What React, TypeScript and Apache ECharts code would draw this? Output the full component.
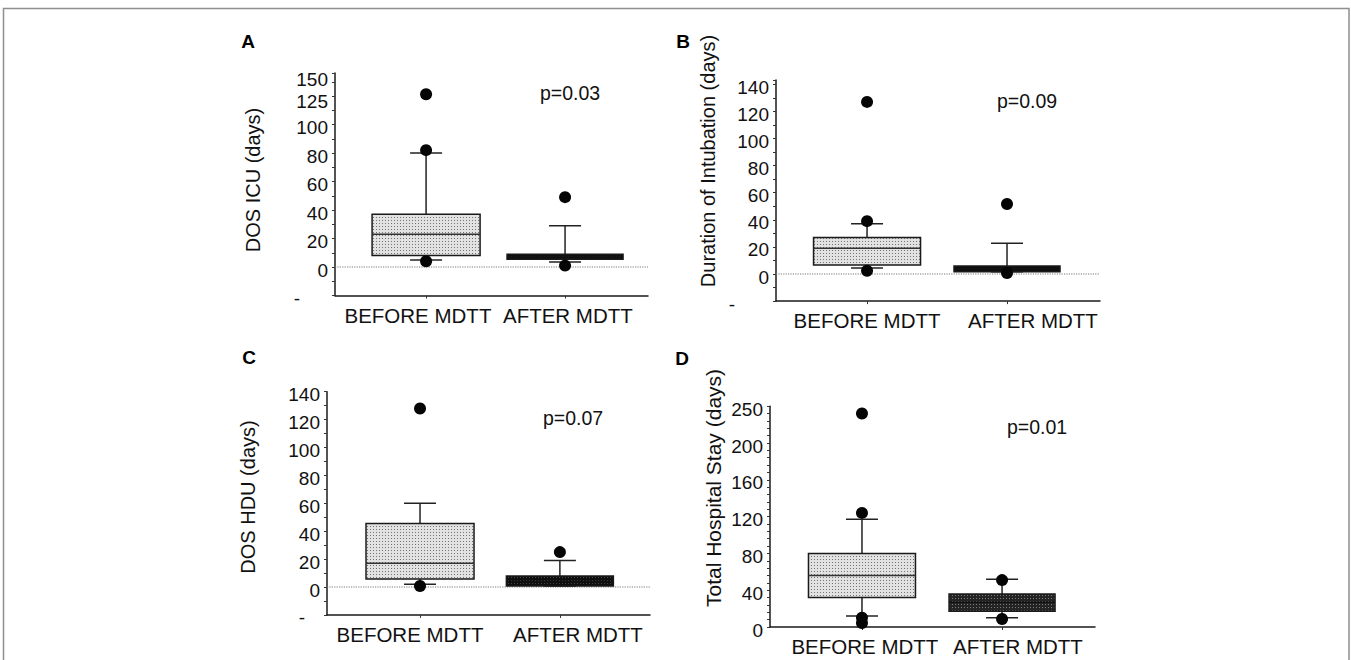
import React, { useEffect, useRef } from "react";
import * as echarts from "echarts";

// ---------------- DATA ----------------
const categories = ["BEFORE MDTT", "AFTER MDTT"];

// tick labels (days) of each panel's y axis
const icuTicks = [0, 20, 40, 60, 80, 100, 125, 150];
const intubTicks = [0, 20, 40, 60, 80, 100, 120, 140];
const hduTicks = [0, 20, 40, 60, 80, 100, 120, 140];
const stayTicks = [0, 40, 80, 120, 160, 200, 250];

// box values: [lower whisker, Q1, median, Q3, upper whisker] (days)
const icuBefore = [5, 8, 23, 37, 80];
const icuAfter = [3.5, 5.5, 7, 9, 29];
const intubBefore = [4.4, 6.6, 19, 27, 37];
const intubAfter = [1.7, 1.7, 3.8, 5.9, 22.7];
const hduBefore = [2, 5.7, 17, 45.6, 60];
const hduAfter = [0.7, 0.7, 4, 7.8, 19];
const stayBefore = [12, 32, 56, 80, 117];
const stayAfter = [10, 17, 27, 36, 52];

// outliers (days)
const icuOutBefore = [130, 82, 4];
const icuOutAfter = [49, 1];
const intubOutBefore = [127, 39, 2.4];
const intubOutAfter = [51.7, 0.7];
const hduOutBefore = [128, 0.7];
const hduOutAfter = [25];
const stayOutBefore = [240, 124, 10, 4.3];
const stayOutAfter = [51, 8.7];

const panelLetters = ["A", "B", "C", "D"];
const yTitles = [
  "DOS ICU (days)",
  "Duration of Intubation (days)",
  "DOS HDU (days)",
  "Total Hospital Stay (days)",
];
const pValues = ["p=0.03", "p=0.09", "p=0.07", "p=0.01"];

// ---------------- LAYOUT ----------------
const FONT = "'Liberation Sans', Arial, Helvetica, sans-serif";
const TXT = "#111111";

const layout = [
  { left: 335, width: 313, zeroY: 267, step: 28.5, min: -1, max: 6.81, tickPos: [0, 1, 2, 3, 4, 5, 5.9, 6.7], minor: 0.5, boxX: [0.291, 0.735], labelX: [0.265, 0.744], boxW: [108, 116], dashPad: 28, letterXY: [248, 41], titleXY: [253, 180], titleSize: 20, pXY: [570, 93], zeroLine: true },
  { left: 776, width: 324, zeroY: 274, step: 27.1, min: -1, max: 7.16, tickPos: [0, 1, 2, 3, 4, 5, 6, 7], minor: 0.5, boxX: [0.281, 0.713], labelX: [0.281, 0.793], boxW: [107, 106], dashPad: 34, letterXY: [683, 41], titleXY: [708, 161], titleSize: 20, pXY: [1027, 101], zeroLine: true },
  { left: 327, width: 323, zeroY: 587, step: 27.9, min: -1, max: 7.0, tickPos: [0, 1, 2, 3, 4, 5, 6, 7], minor: 0.5, boxX: [0.288, 0.721], labelX: [0.257, 0.777], boxW: [108, 107], dashPad: 15, letterXY: [249, 357], titleXY: [248, 497], titleSize: 20, pXY: [573, 418], zeroLine: true },
  { left: 770, width: 325, zeroY: 627, step: 36.8, min: 0, max: 6, tickPos: [0, 1, 2, 3, 4, 5, 6], minor: 0.2, boxX: [0.283, 0.714], labelX: [0.292, 0.763], boxW: [107, 106], dashPad: 0, letterXY: [682, 358], titleXY: [713, 488], titleSize: 21, pXY: [1037, 427], zeroLine: false },
];

const panelTicks = [icuTicks, intubTicks, hduTicks, stayTicks];
const panelBoxes = [
  [icuBefore, icuAfter],
  [intubBefore, intubAfter],
  [hduBefore, hduAfter],
  [stayBefore, stayAfter],
];
const panelOutliers = [
  [icuOutBefore, icuOutAfter],
  [intubOutBefore, intubOutAfter],
  [hduOutBefore, hduOutAfter],
  [stayOutBefore, stayOutAfter],
];

// piecewise-linear map from days to the axis' tick-position units
function toPos(v: number, ticks: number[], pos: number[]) {
  if (v <= ticks[0]) return pos[0] + ((v - ticks[0]) / (ticks[1] - ticks[0])) * (pos[1] - pos[0]);
  for (let i = 1; i < ticks.length; i++) {
    if (v <= ticks[i]) {
      const t = (v - ticks[i - 1]) / (ticks[i] - ticks[i - 1]);
      return pos[i - 1] + t * (pos[i] - pos[i - 1]);
    }
  }
  const n = ticks.length - 1;
  return pos[n] + ((v - ticks[n]) / (ticks[n] - ticks[n - 1])) * (pos[n] - pos[n - 1]);
}

function makePattern(bg: string, dot: string) {
  const c = document.createElement("canvas");
  c.width = 3;
  c.height = 3;
  const ctx = c.getContext("2d")!;
  ctx.fillStyle = bg;
  ctx.fillRect(0, 0, 3, 3);
  ctx.fillStyle = dot;
  ctx.fillRect(1, 1, 1, 1);
  return { image: c, repeat: "repeat" } as any;
}

function buildOption() {
  const lightFill = makePattern("#e2e2e2", "#747474");
  const darkFill = makePattern("#0e0e0e", "#444444");
  const darkFillD = makePattern("#242424", "#7c7c7c");

  const grids: any[] = [];
  const xAxes: any[] = [];
  const yAxes: any[] = [];
  const series: any[] = [];
  const graphics: any[] = [];

  graphics.push({
    type: "rect",
    shape: { x: 3.5, y: 8.5, width: 1345.5, height: 720 },
    style: { fill: "none", stroke: "#8f8f8f", lineWidth: 1.5 },
    silent: true,
  });

  layout.forEach((L, i) => {
    const ticks = panelTicks[i];
    const top = L.zeroY - L.max * L.step;
    const height = (L.max - L.min) * L.step;
    grids.push({ left: L.left, top, width: L.width, height, containLabel: false });

    xAxes.push({
      gridIndex: i,
      type: "value",
      min: 0,
      max: 1,
      axisLine: { show: true, onZero: false, lineStyle: { color: "#1a1a1a", width: 1.5 } },
      axisTick: { show: true, customValues: L.boxX, length: 3, lineStyle: { color: "#333", width: 1 } },
      splitLine: { show: false },
      axisLabel: {
        customValues: L.labelX,
        formatter: (v: number) => categories[v < 0.5 ? 0 : 1],
        fontSize: 20.5,
        fontFamily: FONT,
        color: TXT,
        margin: 9,
      },
    });

    const labelVals = (L.min < 0 ? [L.min] : []).concat(L.tickPos);
    yAxes.push({
      gridIndex: i,
      type: "value",
      min: L.min,
      max: L.max,
      interval: L.minor,
      axisLine: { show: true, onZero: false, lineStyle: { color: "#1a1a1a", width: 1.5 } },
      axisTick: { show: true, length: 3, lineStyle: { color: "#333", width: 1 } },
      splitLine: { show: false },
      axisLabel: {
        customValues: labelVals,
        formatter: (v: number) => {
          if (L.min < 0 && Math.abs(v - L.min) < 1e-6) return "{d|-}";
          let best = 0;
          L.tickPos.forEach((p, k) => {
            if (Math.abs(p - v) < Math.abs(L.tickPos[best] - v)) best = k;
          });
          return String(ticks[best]);
        },
        fontSize: 19,
        fontFamily: FONT,
        color: TXT,
        margin: 7,
        padding: [6, 0, 0, 0],
        rich: {
          d: { fontSize: 19, fontFamily: FONT, color: TXT, padding: [0, L.dashPad, 0, 0] },
        },
      },
    });

    if (L.zeroLine) {
      series.push({
        type: "line",
        xAxisIndex: i,
        yAxisIndex: i,
        data: [
          [0, 0],
          [1, 0],
        ],
        symbol: "none",
        silent: true,
        lineStyle: { type: "dotted", color: "#7a7a7a", width: 1.2 },
        z: 1,
      });
    }

    const boxes = panelBoxes[i];
    const fills = [lightFill, i === 3 ? darkFillD : darkFill];
    series.push({
      type: "custom",
      xAxisIndex: i,
      yAxisIndex: i,
      z: 3,
      encode: { x: 0, y: [1, 2, 3, 4, 5] },
      data: boxes.map((b, j) => [L.boxX[j], ...b.map((v) => toPos(v, ticks, L.tickPos))]),
      renderItem: (params: any, api: any) => {
        const j = params.dataIndex;
        const xv = api.value(0);
        const cx = api.coord([xv, 0])[0];
        const y = [1, 2, 3, 4, 5].map((k) => api.coord([xv, api.value(k)])[1]);
        const half = L.boxW[j] / 2;
        const cap = 16;
        const ls = { stroke: "#222", lineWidth: 1.5 };
        return {
          type: "group",
          children: [
            { type: "line", shape: { x1: cx, y1: y[3], x2: cx, y2: y[4] }, style: ls },
            { type: "line", shape: { x1: cx - cap, y1: y[4], x2: cx + cap, y2: y[4] }, style: ls },
            { type: "line", shape: { x1: cx, y1: y[1], x2: cx, y2: y[0] }, style: ls },
            { type: "line", shape: { x1: cx - cap, y1: y[0], x2: cx + cap, y2: y[0] }, style: ls },
            {
              type: "rect",
              shape: { x: cx - half, y: y[3], width: 2 * half, height: y[1] - y[3] },
              style: { fill: fills[j], stroke: "#1a1a1a", lineWidth: 1.5 },
            },
            {
              type: "line",
              shape: { x1: cx - half, y1: y[2], x2: cx + half, y2: y[2] },
              style: { stroke: j === 0 ? "#333" : "#111", lineWidth: 1.5 },
            },
          ],
        };
      },
    });

    const outs = panelOutliers[i];
    const pts: number[][] = [];
    outs.forEach((arr, j) => arr.forEach((v) => pts.push([L.boxX[j], toPos(v, ticks, L.tickPos)])));
    series.push({
      type: "scatter",
      xAxisIndex: i,
      yAxisIndex: i,
      z: 5,
      symbol: "circle",
      symbolSize: 12,
      itemStyle: { color: "#050505", opacity: 1 },
      data: pts,
    });

    graphics.push({
      type: "text",
      x: L.letterXY[0],
      y: L.letterXY[1],
      style: { text: panelLetters[i], font: `bold 19px ${FONT}`, fill: "#000", align: "center", verticalAlign: "middle" },
    });
    graphics.push({
      type: "text",
      x: L.titleXY[0],
      y: L.titleXY[1],
      rotation: Math.PI / 2,
      style: { text: yTitles[i], font: `${L.titleSize}px ${FONT}`, fill: TXT, align: "center", verticalAlign: "middle" },
    });
    graphics.push({
      type: "text",
      x: L.pXY[0],
      y: L.pXY[1],
      style: { text: pValues[i], font: `19.5px ${FONT}`, fill: TXT, align: "center", verticalAlign: "middle" },
    });
  });

  return {
    animation: false,
    backgroundColor: "#ffffff",
    grid: grids,
    xAxis: xAxes,
    yAxis: yAxes,
    series,
    graphic: graphics,
  };
}

export default function App() {
  const ref = useRef<HTMLDivElement>(null);
  useEffect(() => {
    if (!ref.current) return;
    const chart = echarts.init(ref.current, null, { renderer: "svg" });
    chart.setOption(buildOption() as any);
    return () => chart.dispose();
  }, []);
  return (
    <div
      ref={ref}
      style={{ position: "absolute", left: 0, top: 0, width: 1351, height: 660, background: "#fff" }}
    />
  );
}
